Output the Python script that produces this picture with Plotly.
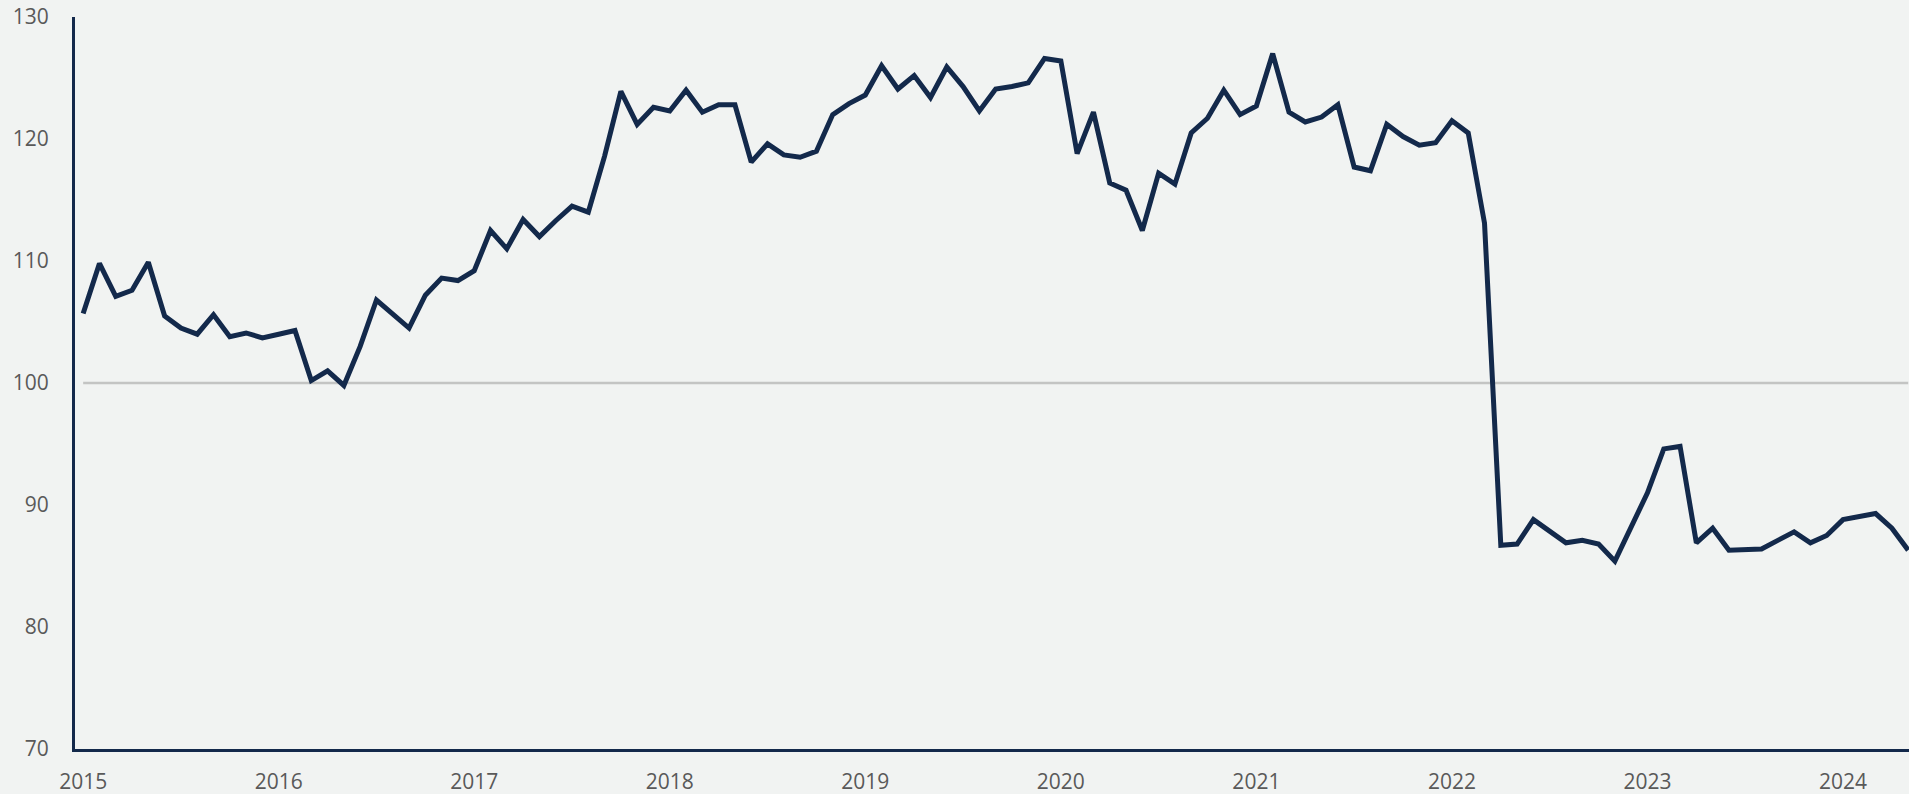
import pandas as pd
import plotly.graph_objects as go

# Monthly categories Jan 2015 .. May 2024
months = [d.strftime("%Y-%m") for d in pd.date_range("2015-01-01", "2024-05-01", freq="MS")]

index_values = [
    105.7, 109.8, 107.1, 107.6, 109.9, 105.5, 104.5, 104.0, 105.6, 103.8, 104.1, 103.7,  # 2015
    104.0, 104.3, 100.2, 101.0, 99.8, 103.0, 106.8, 105.6, 104.5, 107.2, 108.6, 108.4,    # 2016
    109.2, 112.5, 111.0, 113.4, 112.0, 113.3, 114.5, 114.0, 118.6, 123.9, 121.2, 122.6,   # 2017
    122.3, 124.0, 122.2, 122.8, 122.8, 118.1, 119.6, 118.7, 118.5, 119.0, 122.0, 122.9,   # 2018
    123.6, 126.0, 124.1, 125.2, 123.4, 125.9, 124.3, 122.3, 124.1, 124.3, 124.6, 126.6,   # 2019
    126.4, 118.8, 122.2, 116.4, 115.8, 112.5, 117.2, 116.3, 120.5, 121.7, 124.0, 122.0,   # 2020
    122.7, 127.0, 122.2, 121.4, 121.8, 122.8, 117.7, 117.4, 121.2, 120.2, 119.5, 119.7,   # 2021
    121.5, 120.5, 113.1, 86.7, 86.8, 88.8, 87.9, 86.9, 87.1, 86.8, 85.4, 88.2,           # 2022
    91.0, 94.6, 94.8, 86.9, 88.1, 86.3, 86.3, 86.4, 87.1, 87.8, 86.9, 87.5,              # 2023
    88.8, 89.0, 89.3, 88.1, 86.3,                                                          # 2024
]

baseline_value = 100
baseline = [baseline_value] * len(months)

year_ticks = [m for m in months if m.endswith("-01")]
year_labels = [m[:4] for m in year_ticks]

y_ticks = [70, 80, 90, 100, 110, 120, 130]

NAVY = "#13294b"
BG = "#f1f3f2"
TXT = "#595959"
FONT = "Open Sans"

fig = go.Figure()
fig.add_trace(go.Scatter(
    x=months, y=baseline, mode="lines",
    line=dict(color="#c3c4c3", width=2.5),
    hoverinfo="skip", showlegend=False,
))
fig.add_trace(go.Scatter(
    x=months, y=index_values, mode="lines",
    line=dict(color=NAVY, width=5),
    showlegend=False,
))

fig.update_layout(
    width=1909, height=794,
    margin=dict(l=75, r=0, t=17, b=45),
    paper_bgcolor=BG, plot_bgcolor=BG,
    font=dict(family=FONT, size=21, color=TXT),
    showlegend=False,
)
fig.update_xaxes(
    type="category",
    range=[-0.5, len(months) - 1 + 0.05],
    tickmode="array", tickvals=year_ticks, ticktext=year_labels,
    showgrid=False, zeroline=False,
    showline=True, linecolor=NAVY, linewidth=3,
    ticks="", ticklabelstandoff=12,
    tickfont=dict(family=FONT, size=21, color=TXT),
)
fig.update_yaxes(
    range=[70, 130],
    tickmode="array", tickvals=y_ticks,
    showgrid=False, zeroline=False,
    showline=True, linecolor=NAVY, linewidth=3,
    ticks="", ticklabelstandoff=19,
    tickfont=dict(family=FONT, size=21, color=TXT),
)

fig.write_html("out.html", config={"displayModeBar": False},
               post_script="document.body.style.margin='0';")
